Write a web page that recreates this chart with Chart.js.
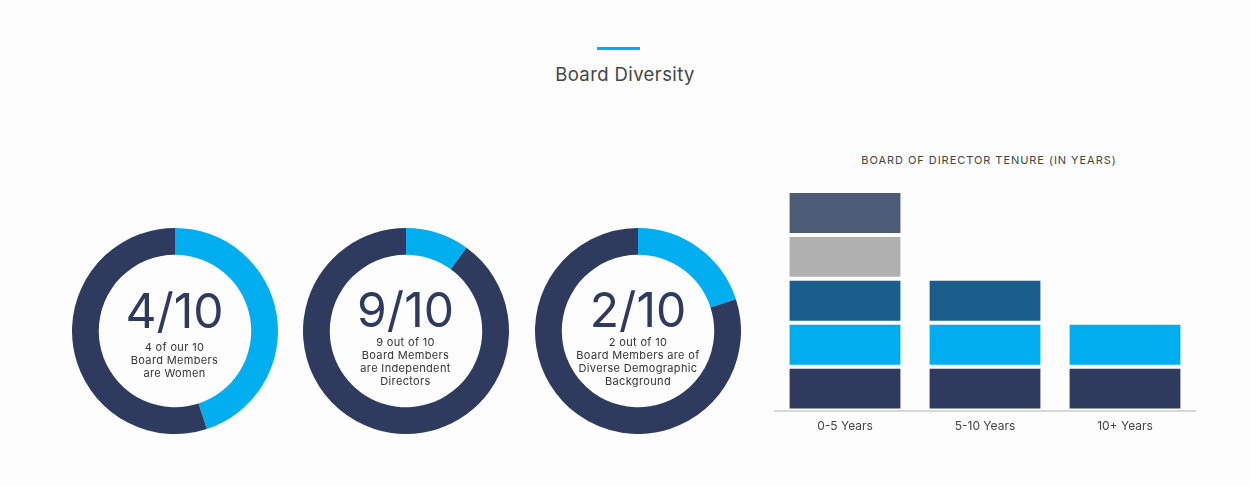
<!DOCTYPE html>
<html>
<head>
    <script src="https://cdn.jsdelivr.net/npm/chart.js"></script>
    <style>
        body {
            margin: 0;
            width: 1250px;
            height: 486px;
            background: #fdfdfe;
            font-family: Inter, "Open Sans", sans-serif;
            position: relative;
            overflow: hidden;
        }
        .rule {
            position: absolute;
            left: 597px;
            top: 47px;
            width: 43px;
            height: 3px;
            background: #00adef;
        }
        .title {
            position: absolute;
            left: 0;
            width: 1250px;
            top: 63px;
            text-align: center;
            font-size: 18.5px;
            color: #444;
            letter-spacing: 0.4px;
        }
        .donut {
            position: absolute;
            width: 206px;
            height: 206px;
        }
        .center {
            position: absolute;
            left: 0;
            width: 206px;
            text-align: center;
            color: #333;
            pointer-events: none;
        }
        .big {
            font-size: 48px;
            font-weight: 400;
            color: #2e3b5e;
            line-height: 52px;
        }
        .small {
            font-size: 11px;
            line-height: 13px;
            letter-spacing: 0.35px;
        }
        .bar-title {
            position: absolute;
            left: 770px;
            width: 438px;
            top: 153px;
            text-align: center;
            font-size: 11px;
            color: #444;
            letter-spacing: 0.95px;
        }
        .bar-box {
            position: absolute;
            left: 770px;
            top: 182px;
            width: 430px;
            height: 253px;
        }
    </style>
</head>
<body>
    <div class="rule"></div>
    <div class="title">Board Diversity</div>
    <div id="donuts"></div>
    <div class="bar-title">BOARD OF DIRECTOR TENURE (IN YEARS)</div>
    <div class="bar-box"><canvas id="tenureChart"></canvas></div>
    <script>
        // doughnuts: highlighted share (cyan) and the rest (navy), as drawn
        const donutHighlight = [4.5, 1, 2];
        const donutRest = [5.5, 9, 8];
        const donutBig = ['4/10', '9/10', '2/10'];
        const donutText = [
            ['4 of our 10', 'Board Members', 'are Women'],
            ['9 out of 10', 'Board Members', 'are Independent', 'Directors'],
            ['2 out of 10', 'Board Members are of', 'Diverse Demographic', 'Background']
        ];
        const donutCenterX = [174.5, 405.5, 638];
        const donutCenterY = 331;

        // tenure bars, one dataset per stacked layer (bottom first)
        const tenureLabels = ['0-5 Years', '5-10 Years', '10+ Years'];
        const layer1 = [1, 1, 1];
        const layer2 = [1, 1, 1];
        const layer3 = [1, 1, 0];
        const layer4 = [1, 0, 0];
        const layer5 = [1, 0, 0];
        const layerColors = ['#2e3b5e', '#00adef', '#1a5e8e', '#b0b0b0', '#4c5b76'];

        const navy = '#2e3b5e';
        const cyan = '#00adef';

        const holder = document.getElementById('donuts');
        donutBig.forEach((big, i) => {
            const box = document.createElement('div');
            box.className = 'donut';
            box.style.left = (donutCenterX[i] - 103) + 'px';
            box.style.top = (donutCenterY - 103) + 'px';
            const cv = document.createElement('canvas');
            box.appendChild(cv);
            const center = document.createElement('div');
            center.className = 'center';
            const lines = donutText[i];
            const four = lines.length > 3;
            center.style.top = (four ? 56 : 57) + 'px';
            center.innerHTML = '<div class="big">' + big + '</div><div class="small" style="margin-top:' +
                (four ? 0 : 4) + 'px">' + lines.join('<br>') + '</div>';
            box.appendChild(center);
            holder.appendChild(box);

            new Chart(cv.getContext('2d'), {
                type: 'doughnut',
                data: {
                    datasets: [{
                        data: [donutHighlight[i], donutRest[i]],
                        backgroundColor: [cyan, navy],
                        borderWidth: 0
                    }]
                },
                options: {
                    responsive: true,
                    maintainAspectRatio: false,
                    animation: false,
                    cutout: '74%',
                    plugins: { legend: { display: false }, tooltip: { enabled: false } }
                }
            });
        });

        const layers = [layer1, layer2, layer3, layer4, layer5];
        new Chart(document.getElementById('tenureChart').getContext('2d'), {
            type: 'bar',
            data: {
                labels: tenureLabels,
                datasets: layers.map((d, i) => ({
                    label: 'Layer ' + (i + 1),
                    data: d,
                    backgroundColor: layerColors[i],
                    borderColor: '#fdfdfe',
                    borderWidth: 2,
                    borderSkipped: false,
                    categoryPercentage: 1,
                    barPercentage: 0.82
                }))
            },
            options: {
                responsive: true,
                maintainAspectRatio: false,
                animation: false,
                layout: { padding: { left: 5, right: 5, top: 9, bottom: 0 } },
                plugins: { legend: { display: false }, tooltip: { enabled: false } },
                scales: {
                    x: {
                        stacked: true,
                        grid: { display: false },
                        border: { color: '#d6d6d6', width: 2 },
                        ticks: { color: '#444', font: { family: 'Inter', size: 12 }, padding: 1 }
                    },
                    y: {
                        stacked: true,
                        display: false,
                        min: 0,
                        max: 5
                    }
                }
            }
        });
    </script>
</body>
</html>
